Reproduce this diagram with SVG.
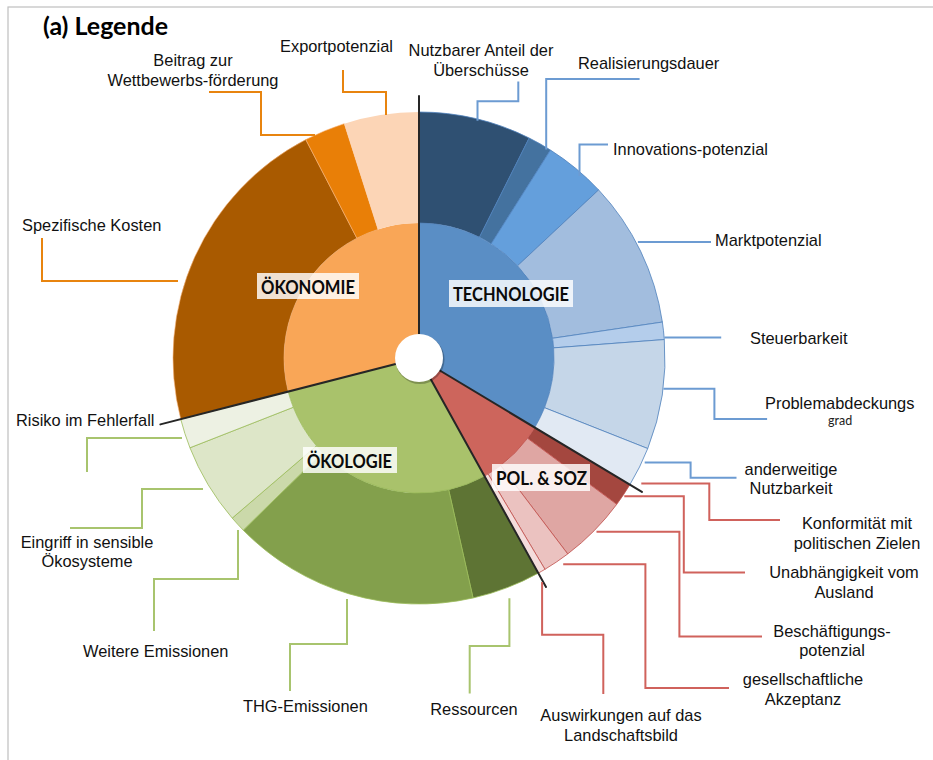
<svg xmlns="http://www.w3.org/2000/svg" width="933" height="760" viewBox="0 0 933 760">
<style>
.lbl{font-family:"Liberation Sans",Arial,sans-serif;font-size:16.4px;fill:#111}
.mid{text-anchor:middle}
.cat{font-family:Lato,"Open Sans",sans-serif;font-weight:bold;font-size:18px;fill:#0a0a0a}
.box{fill:#fff;fill-opacity:0.82}
.ld{fill:none;stroke-width:2}
.o{stroke:#E8840F}
.b{stroke:#6C9BD2}
.r{stroke:#D0625C}
.g{stroke:#A8C46E}
.div{stroke:#262626;stroke-width:2;fill:none;stroke-linecap:round}
.st{stroke:#4F81BD;stroke-width:0.8}
.sp{stroke:#C0504D;stroke-width:0.8}
.sg{stroke:#9BBB59;stroke-width:0.8}
.so{stroke:#F6B47A;stroke-width:0.6}
</style>
<rect x="8" y="7" width="940" height="770" fill="#fff" stroke="#BFBFBF" stroke-width="1.2"/>
<text x="43" y="35" font-family="Lato,'Open Sans',sans-serif" font-weight="bold" font-size="24" fill="#000" textLength="125" lengthAdjust="spacingAndGlyphs">(a) Legende</text>

<g id="technologie">
<path d="M419,358 L419,223 A135,135 0 0 1 534.72,427.53 Z" fill="#5A8EC5"/>
<g id="nutzbarer-anteil"><path class="st" d="M419,112 A246,246 0 0 1 529.16,138.03 L479.45,237.28 A135,135 0 0 0 419,223 Z" fill="#2F5072"/>
<text class="lbl mid" x="481" y="56">Nutzbarer Anteil der</text><text class="lbl mid" x="481" y="76">Überschüsse</text></g>
<g id="realisierungsdauer"><path class="st" d="M529.16,138.03 A246,246 0 0 1 550.46,150.06 L491.14,243.88 A135,135 0 0 0 479.45,237.28 Z" fill="#44729F"/>
<text class="lbl" x="578" y="69">Realisierungsdauer</text></g>
<g id="innovationspotenzial"><path class="st" d="M550.46,150.06 A246,246 0 0 1 598.63,189.91 L517.58,265.75 A135,135 0 0 0 491.14,243.88 Z" fill="#649FDC"/>
<text class="lbl" x="613" y="155">Innovations-potenzial</text></g>
<g id="marktpotenzial"><path class="st" d="M598.63,189.91 A246,246 0 0 1 662.37,322.06 L552.56,338.28 A135,135 0 0 0 517.58,265.75 Z" fill="#A2BDDE"/>
<text class="lbl" x="715" y="246">Marktpotenzial</text></g>
<g id="steuerbarkeit"><path class="st" d="M662.37,322.06 A246,246 0 0 1 664.31,339.55 L553.62,347.88 A135,135 0 0 0 552.56,338.28 Z" fill="#B4CDEB"/>
<text class="lbl" x="750" y="344">Steuerbarkeit</text></g>
<g id="problemabdeckungsgrad"><path class="st" d="M664.31,339.55 A246,246 0 0 1 647.73,448.55 L544.52,407.69 A135,135 0 0 0 553.62,347.88 Z" fill="#C5D6E8"/>
<text class="lbl" x="765" y="409">Problemabdeckungs</text><text x="828" y="425" font-family="Lato,'Open Sans',sans-serif" font-size="12.5" fill="#222">grad</text></g>
<g id="anderweitige-nutzbarkeit"><path class="st" d="M647.73,448.55 A246,246 0 0 1 629.87,484.69 L534.72,427.53 A135,135 0 0 0 544.52,407.69 Z" fill="#E1E9F3"/>
<text class="lbl mid" x="791" y="475">anderweitige</text><text class="lbl mid" x="791" y="494">Nutzbarkeit</text></g>
<rect class="box" x="449" y="280" width="124" height="27"/>
<text class="cat" x="453" y="301" textLength="116" lengthAdjust="spacingAndGlyphs">TECHNOLOGIE</text>
</g>

<g id="politik-soziales">
<path d="M419,358 L534.72,427.53 A135,135 0 0 1 484.45,476.07 Z" fill="#CD655C"/>
<g id="konformitaet"><path class="sp" d="M629.87,484.69 A246,246 0 0 1 616.76,504.32 L527.53,438.30 A135,135 0 0 0 534.72,427.53 Z" fill="#A4473F"/>
<text class="lbl mid" x="857" y="529">Konformität mit</text><text class="lbl mid" x="857" y="549">politischen Zielen</text></g>
<g id="unabhaengigkeit"><text class="lbl mid" x="844" y="578">Unabhängigkeit vom</text><text class="lbl mid" x="844" y="598">Ausland</text></g>
<g id="beschaeftigung"><path class="sp" d="M616.76,504.32 A246,246 0 0 1 567.73,553.94 L500.62,465.53 A135,135 0 0 0 527.53,438.30 Z" fill="#DFA6A3"/>
<text class="lbl mid" x="832" y="637">Beschäftigungs-</text><text class="lbl mid" x="832" y="656">potenzial</text></g>
<g id="akzeptanz"><path class="sp" d="M567.73,553.94 A246,246 0 0 1 544.95,569.31 L488.12,473.97 A135,135 0 0 0 500.62,465.53 Z" fill="#EBC2C0"/>
<text class="lbl mid" x="803" y="685">gesellschaftliche</text><text class="lbl mid" x="803" y="705">Akzeptanz</text></g>
<g id="landschaftsbild"><path class="sp" d="M544.95,569.31 A246,246 0 0 1 538.26,573.15 L484.45,476.07 A135,135 0 0 0 488.12,473.97 Z" fill="#F4DDDC"/>
<text class="lbl mid" x="621" y="721">Auswirkungen auf das</text><text class="lbl mid" x="621" y="741">Landschaftsbild</text></g>
<rect class="box" x="492" y="464" width="98" height="27"/>
<text class="cat" x="496" y="485" textLength="91" lengthAdjust="spacingAndGlyphs">POL. &amp; SOZ</text>
</g>

<g id="oekologie">
<path d="M419,358 L484.45,476.07 A135,135 0 0 1 288.24,391.57 Z" fill="#A9C26B"/>
<g id="ressourcen"><path class="sg" d="M538.26,573.15 A246,246 0 0 1 473.07,597.97 L448.67,489.69 A135,135 0 0 0 484.45,476.07 Z" fill="#5E7434"/>
<text class="lbl mid" x="474" y="715">Ressourcen</text></g>
<g id="thg-emissionen"><path class="sg" d="M473.07,597.97 A246,246 0 0 1 243.23,530.13 L322.54,452.46 A135,135 0 0 0 448.67,489.69 Z" fill="#83A04C"/>
<text class="lbl" x="243" y="712">THG-Emissionen</text></g>
<g id="weitere-emissionen"><path class="sg" d="M243.23,530.13 A246,246 0 0 1 232.21,518.10 L316.49,445.86 A135,135 0 0 0 322.54,452.46 Z" fill="#CBD9AA"/>
<text class="lbl" x="83" y="657">Weitere Emissionen</text></g>
<g id="eingriff"><path class="sg" d="M232.21,518.10 A246,246 0 0 1 189.95,447.77 L293.30,407.26 A135,135 0 0 0 316.49,445.86 Z" fill="#DDE6C8"/>
<text class="lbl mid" x="87" y="548">Eingriff in sensible</text><text class="lbl mid" x="87" y="567">Ökosysteme</text></g>
<g id="risiko"><path class="sg" d="M189.95,447.77 A246,246 0 0 1 180.72,419.18 L288.24,391.57 A135,135 0 0 0 293.30,407.26 Z" fill="#EDF1E3"/>
<text class="lbl" x="16" y="426">Risiko im Fehlerfall</text></g>
<rect class="box" x="303" y="447" width="94" height="26"/>
<text class="cat" x="307" y="468" textLength="85" lengthAdjust="spacingAndGlyphs">ÖKOLOGIE</text>
</g>

<g id="oekonomie">
<path d="M419,358 L288.24,391.57 A135,135 0 0 1 419,223 Z" fill="#F9A657"/>
<g id="spezifische-kosten"><path class="so" d="M180.72,419.18 A246,246 0 0 1 305.79,139.60 L356.87,238.15 A135,135 0 0 0 288.24,391.57 Z" fill="#A95A00"/>
<text class="lbl" x="22" y="231">Spezifische Kosten</text></g>
<g id="wettbewerbsfoerderung"><path class="so" d="M305.79,139.60 A246,246 0 0 1 344.22,123.64 L377.96,229.39 A135,135 0 0 0 356.87,238.15 Z" fill="#E97F07"/>
<text class="lbl mid" x="193" y="66">Beitrag zur</text><text class="lbl mid" x="193" y="86">Wettbewerbs-förderung</text></g>
<g id="exportpotenzial"><path d="M344.22,123.64 A246,246 0 0 1 419,112 L419,223 A135,135 0 0 0 377.96,229.39 Z" fill="#FCD5B6"/>
<text class="lbl" x="280" y="52">Exportpotenzial</text></g>
<rect class="box" x="257" y="273" width="102" height="26"/>
<text class="cat" x="261" y="294" textLength="94" lengthAdjust="spacingAndGlyphs">ÖKONOMIE</text>
</g>

<g id="connectors">
<line class="div" x1="419" y1="96" x2="419" y2="358"/>
<line class="div" x1="419" y1="358" x2="641.9" y2="491.9"/>
<line class="div" x1="419" y1="358" x2="546" y2="587"/>
<line class="div" x1="419" y1="358" x2="160.4" y2="424.4"/>
<polyline class="ld b" points="477.5,120.7 477.5,101.3 518.3,101.3 518.3,81.6"/>
<polyline class="ld b" points="546.2,149.6 546.2,78.9 639.6,78.9"/>
<polyline class="ld b" points="579.5,176.1 579.5,144.5 608,144.5"/>
<polyline class="ld b" points="637.9,242 711,242"/>
<polyline class="ld b" points="664.4,337.5 721.2,337.5"/>
<polyline class="ld b" points="663.4,388.7 714.4,388.7 714.4,418.9 767.1,418.9"/>
<polyline class="ld b" points="644.7,462.4 690.6,462.4 690.6,477.7 736.5,477.7"/>
<polyline class="ld r" points="641.3,483.4 709.3,483.4 709.3,520.1 780,520.1"/>
<polyline class="ld r" points="624.3,496.3 683.8,496.3 683.8,572.5 745,572.5"/>
<polyline class="ld r" points="596.5,531.7 679.4,531.7 679.4,636.4 762,636.4"/>
<polyline class="ld r" points="563.2,564.3 645.4,564.3 645.4,688 729,688"/>
<polyline class="ld r" points="542.1,582 542.1,634.7 603.3,634.7 603.3,694.1"/>
<polyline class="ld g" points="509.4,598.3 509.4,645.9 469.7,645.9 469.7,693.5"/>
<polyline class="ld g" points="347,599 347,644 290,644 290,691"/>
<polyline class="ld g" points="238,530 238,579 154,579 154,631"/>
<polyline class="ld g" points="203,489 142,489 142,528 70,528"/>
<polyline class="ld g" points="182,438 87,438 87,472"/>
<polyline class="ld o" points="386,115 386,92 343,92 343,70"/>
<polyline class="ld o" points="315,135 261,135 261,92 209,92"/>
<polyline class="ld o" points="178,281 42,281 42,238"/>
</g>

<g id="hole">
<circle cx="420" cy="359.5" r="24.5" fill="#000" fill-opacity="0.25"/>
<circle cx="419" cy="358" r="24" fill="#fff"/>
</g>
</svg>
